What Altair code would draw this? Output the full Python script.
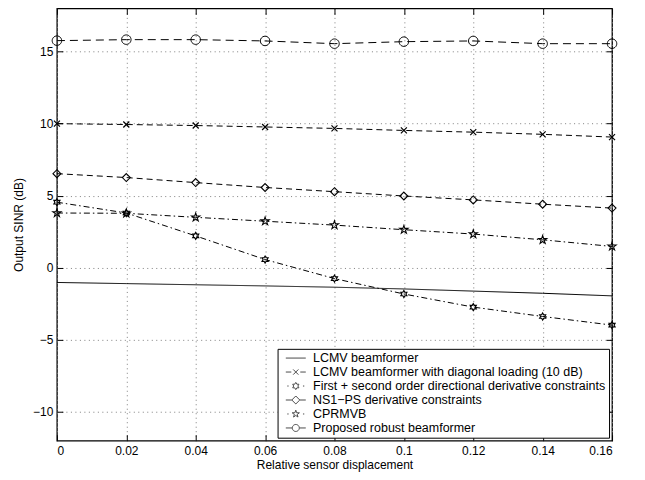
import math
import altair as alt
import pandas as pd

# ---------------- data ----------------
x_vals = [0, 0.02, 0.04, 0.06, 0.08, 0.10, 0.12, 0.14, 0.16]
series_names = [
    "LCMV beamformer",
    "LCMV beamformer with diagonal loading (10 dB)",
    "First + second order directional derivative constraints",
    "NS1\u2212PS derivative constraints",
    "CPRMVB",
    "Proposed robust beamformer",
]
lcmv = [-1.02, -1.10, -1.18, -1.26, -1.35, -1.47, -1.62, -1.77, -1.95]
lcmv_dl = [10.0, 9.94, 9.87, 9.77, 9.67, 9.53, 9.41, 9.26, 9.07]
first_second = [4.55, 3.80, 2.21, 0.57, -0.75, -1.82, -2.73, -3.38, -3.98]
ns1_ps = [6.53, 6.26, 5.91, 5.57, 5.28, 4.98, 4.71, 4.41, 4.14]
cprmvb = [3.80, 3.78, 3.50, 3.23, 2.96, 2.64, 2.34, 1.94, 1.48]
proposed = [15.76, 15.83, 15.83, 15.74, 15.55, 15.69, 15.74, 15.55, 15.55]
y_ticks = [-10, -5, 0, 5, 10, 15]

all_series = [lcmv, lcmv_dl, first_second, ns1_ps, cprmvb, proposed]
rows = []
for name, vals in zip(series_names, all_series):
    for xv, yv in zip(x_vals, vals):
        rows.append({"series": name, "x": xv, "y": yv})
df = pd.DataFrame(rows)
pts = df[df["series"] != series_names[0]]
leg_df = pd.DataFrame({"series": series_names, "x": [0.0] * 6, "y": [-100.0] * 6})


# ---------------- marker shapes ----------------
def poly(points):
    return "M" + "L".join(f"{px:.3f},{py:.3f}" for px, py in points) + "Z"


def star_pts(n, ro, ri, cx=0.0):
    p = []
    for i in range(2 * n):
        r = ro if i % 2 == 0 else ri
        a = -math.pi / 2 + i * math.pi / n
        p.append((cx + r * math.cos(a), r * math.sin(a)))
    return p


def circ_pts(r, cx=0.0, n=28):
    return [(cx + r * math.cos(2 * math.pi * i / n), r * math.sin(2 * math.pi * i / n)) for i in range(n)]


X_SHAPE = "M-1,-1L1,1M-1,1L1,-1"
DIAMOND = "M0,-1L1,0L0,1L-1,0Z"
HEXA = poly(star_pts(6, 1.0, 0.577))
PENTA = poly(star_pts(5, 1.0, 0.382))
CIRCLE = poly(circ_pts(1.0))

point_names = series_names[1:]
point_shapes = [X_SHAPE, HEXA, DIAMOND, PENTA, CIRCLE]
point_sizes = [36, 90, 88, 100, 78]
point_widths = [1.2, 1, 1, 1.5, 1]

# legend symbols: drawn in pixel space, converted to symbol units for
# symbolSize=100 (1 unit = 5 px, nominal centre at 5 px)
LEG_SIZE = 100
U = math.sqrt(LEG_SIZE) / 2.0
SHIFT = 4.0  # extra left inset of the symbol inside the legend box


def lp(points):
    return [((px + SHIFT - U) / U, py / U) for px, py in points]


def lpoly(points):
    return poly(lp(points))


def lseg(a, b):
    (x1, _), (x2, _) = lp([(a, 0), (b, 0)])
    return f"M{x1:.3f},0L{x2:.3f},0"


def lline(p1, p2):
    (x1, y1), (x2, y2) = lp([p1, p2])
    return f"M{x1:.3f},{y1:.3f}L{x2:.3f},{y2:.3f}"


C = 10.0
legend_shapes = [
    lseg(0, 20),
    lseg(0, 5.5) + lseg(14.5, 20) + lline((C - 2.6, -2.6), (C + 2.6, 2.6)) + lline((C - 2.6, 2.6), (C + 2.6, -2.6)),
    lseg(1.5, 2.8) + lseg(17.2, 18.5) + lpoly(star_pts(6, 3.6, 2.1, C)),
    lseg(0, 6) + lseg(14, 20) + lpoly([(C, -4), (C + 4, 0), (C, 4), (C - 4, 0)]),
    lseg(1.5, 2.8) + lseg(17.2, 18.5) + lpoly(star_pts(5, 3.8, 1.5, C)),
    lseg(0, 6.5) + lseg(13.5, 20) + lpoly(circ_pts(3.5, C)),
]

dashes = [[1, 0], [6, 4], [6, 3, 1.5, 3], [6, 4], [6, 3, 1.5, 3], [8, 5]]

FONT = "Liberation Sans"

x_scale = alt.Scale(domain=[0, 0.16], nice=False, zero=False)
y_scale = alt.Scale(domain=[-12, 18], nice=False, zero=False)


def tick_axis(orient):
    vals = x_vals if orient in ("top", "bottom") else y_ticks
    return alt.Axis(orient=orient, values=vals, labels=False, ticks=True, tickSize=6,
                    tickColor="black", tickWidth=1, offset=-6, domain=False, grid=False, title=None)


lines = alt.Chart(df).mark_line(color="black", strokeWidth=1).encode(
    x=alt.X("x:Q", scale=x_scale, axis=alt.Axis(
        orient="bottom", values=x_vals, format="~g", title="Relative sensor displacement",
        grid=True, gridDash=[1, 3.5], gridColor="#808080", gridWidth=1, ticks=False, tickSize=0,
        domain=False, labelPadding=5, titlePadding=3)),
    y=alt.Y("y:Q", scale=y_scale, axis=alt.Axis(
        orient="left", values=y_ticks, title="Output SINR (dB)",
        grid=True, gridDash=[1, 3.5], gridColor="#808080", gridWidth=1, ticks=False, tickSize=0,
        domain=False, labelPadding=4, titlePadding=7)),
    strokeDash=alt.StrokeDash("series:N", scale=alt.Scale(domain=series_names, range=dashes), legend=None),
    detail="series:N",
)

points = alt.Chart(pts).mark_point(color="black", filled=False, opacity=1).encode(
    x=alt.X("x:Q", scale=x_scale, axis=tick_axis("top")),
    y=alt.Y("y:Q", scale=y_scale, axis=tick_axis("right")),
    shape=alt.Shape("series:N", scale=alt.Scale(domain=point_names, range=point_shapes), legend=None),
    size=alt.Size("series:N", scale=alt.Scale(domain=point_names, range=point_sizes), legend=None),
    strokeWidth=alt.StrokeWidth("series:N", scale=alt.Scale(domain=point_names, range=point_widths), legend=None),
)

legend_layer = alt.Chart(leg_df).mark_point(color="black", filled=False, strokeWidth=1, clip=True).encode(
    x=alt.X("x:Q", scale=x_scale, axis=tick_axis("bottom")),
    y=alt.Y("y:Q", scale=y_scale, axis=tick_axis("left")),
    shape=alt.Shape("series:N", scale=alt.Scale(domain=series_names, range=legend_shapes),
                    legend=alt.Legend(
                        title=None, orient="bottom-right", offset=3,
                        labelFont=FONT, labelFontSize=12.5, labelColor="black", labelLimit=0,
                        labelOffset=16 + SHIFT, symbolSize=LEG_SIZE, symbolStrokeWidth=1,
                        symbolStrokeColor="black", symbolFillColor="transparent",
                        strokeColor="black", fillColor="white", padding=3, rowPadding=1,
                    )),
)

chart = alt.layer(lines, points, legend_layer).resolve_scale(
    shape="independent", strokeDash="independent", size="independent", strokeWidth="independent"
).resolve_axis(x="independent", y="independent").properties(
    width=556, height=433,
    autosize=alt.AutoSizeParams(type="none"),
    padding={"left": 49, "top": 0, "right": 25, "bottom": 39},
).configure_view(stroke="black", strokeWidth=1.3).configure_axis(
    labelFont=FONT, labelFontSize=12, labelColor="black",
    titleFont=FONT, titleFontSize=12, titleFontWeight="normal", titleColor="black",
)

chart.save("out.html", embed_options={"renderer": "svg", "actions": False})
